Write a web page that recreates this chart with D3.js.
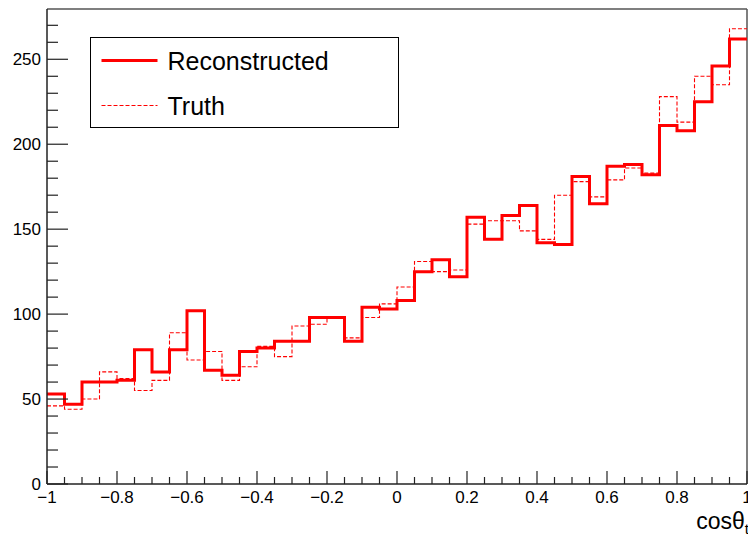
<!DOCTYPE html>
<html>
<head>
<meta charset="utf-8">
<script src="https://cdn.jsdelivr.net/npm/d3@7"></script>
<style>
  html, body { margin: 0; padding: 0; background: #fff; overflow: hidden; }
  svg { display: block; font-family: "Liberation Sans", Arial, sans-serif; }
  .tick-label { font-size: 17px; fill: #000; }
</style>
</head>
<body>
<div id="chart"></div>
<script>
(function () {
  "use strict";

  // bin edges run from -1 to 1 in steps of 0.05 (40 bins)
  const binEdges = [
    -1, -0.95, -0.9, -0.85, -0.8, -0.75, -0.7, -0.65, -0.6, -0.55,
    -0.5, -0.45, -0.4, -0.35, -0.3, -0.25, -0.2, -0.15, -0.1, -0.05,
    0, 0.05, 0.1, 0.15, 0.2, 0.25, 0.3, 0.35, 0.4, 0.45,
    0.5, 0.55, 0.6, 0.65, 0.7, 0.75, 0.8, 0.85, 0.9, 0.95, 1
  ];

  const reconstructed = [
    53, 47, 60, 60, 61, 79, 66, 79, 102, 67,
    64, 78, 80, 84, 84, 98, 98, 84, 104, 103,
    108, 125, 132, 122, 157, 144, 158, 164, 142, 141,
    181, 165, 187, 188, 182, 211, 208, 225, 246, 262
  ];

  const truth = [
    46, 44, 50, 66, 62, 55, 61, 89, 73, 78,
    61, 69, 81, 75, 93, 94, 98, 86, 98, 106,
    116, 131, 125, 126, 153, 155, 155, 149, 144, 170,
    178, 169, 179, 186, 183, 228, 213, 240, 235, 268
  ];

  const xTicks = [-1, -0.8, -0.6, -0.4, -0.2, 0, 0.2, 0.4, 0.6, 0.8, 1];
  const xTickLabels = ["\u22121", "\u22120.8", "\u22120.6", "\u22120.4", "\u22120.2", "0", "0.2", "0.4", "0.6", "0.8", "1"];
  const yTicks = [0, 50, 100, 150, 200, 250];
  const yTickLabels = ["0", "50", "100", "150", "200", "250"];

  const width = 748;
  const height = 539;
  const margin = { top: 9, right: 1, bottom: 55, left: 47 };
  const innerWidth = 700;
  const innerHeight = height - margin.top - margin.bottom;

  const svg = d3.select("#chart")
    .append("svg")
    .attr("width", width)
    .attr("height", height);

  const x = d3.scaleLinear().domain([-1, 1]).range([margin.left, margin.left + innerWidth]);
  const y = d3.scaleLinear().domain([0, 279.6]).range([margin.top + innerHeight, margin.top]);

  // frame top / right
  svg.append("line")
    .attr("x1", margin.left).attr("x2", margin.left + innerWidth)
    .attr("y1", margin.top).attr("y2", margin.top)
    .attr("stroke", "#555").attr("stroke-width", 1.5);
  svg.append("line")
    .attr("x1", margin.left + innerWidth).attr("x2", margin.left + innerWidth)
    .attr("y1", margin.top).attr("y2", margin.top + innerHeight)
    .attr("stroke", "#555").attr("stroke-width", 1.5);

  // histograms
  const step = d3.line()
    .x((d) => x(d[0]))
    .y((d) => y(d[1]))
    .curve(d3.curveStepAfter);

  const toPoints = (values) => {
    const pts = values.map((v, i) => [binEdges[i], v]);
    pts.push([binEdges[binEdges.length - 1], values[values.length - 1]]);
    return pts;
  };

  svg.append("path")
    .attr("d", step(toPoints(truth)))
    .attr("fill", "none")
    .attr("stroke", "#ff0000")
    .attr("stroke-width", 1.1)
    .attr("stroke-dasharray", "4,2");

  svg.append("path")
    .attr("d", step(toPoints(reconstructed)))
    .attr("fill", "none")
    .attr("stroke", "#ff0000")
    .attr("stroke-width", 3)
    .attr("stroke-linejoin", "miter");

  // y axis
  const yAxis = svg.append("g").attr("transform", `translate(${margin.left},0)`);
  yAxis.append("line")
    .attr("x1", 0).attr("x2", 0)
    .attr("y1", margin.top).attr("y2", margin.top + innerHeight)
    .attr("stroke", "#222").attr("stroke-width", 1.5);

  const yMinor = d3.range(0, 280, 10);
  yAxis.selectAll("line.minor")
    .data(yMinor)
    .join("line")
    .attr("class", "minor")
    .attr("x1", 0)
    .attr("x2", (d) => (d % 50 === 0 ? 21 : 11))
    .attr("y1", (d) => y(d))
    .attr("y2", (d) => y(d))
    .attr("stroke", "#222")
    .attr("stroke-width", 1.2);

  yAxis.selectAll("text")
    .data(yTicks)
    .join("text")
    .attr("class", "tick-label")
    .attr("x", -6)
    .attr("y", (d) => y(d))
    .attr("dy", "0.36em")
    .attr("text-anchor", "end")
    .text((d, i) => yTickLabels[i]);

  // x axis
  const xAxis = svg.append("g").attr("transform", `translate(0,${margin.top + innerHeight})`);
  xAxis.append("line")
    .attr("x1", margin.left).attr("x2", margin.left + innerWidth)
    .attr("y1", 0).attr("y2", 0)
    .attr("stroke", "#222").attr("stroke-width", 1.5);

  xAxis.selectAll("line.minor")
    .data(binEdges)
    .join("line")
    .attr("class", "minor")
    .attr("x1", (d) => x(d))
    .attr("x2", (d) => x(d))
    .attr("y1", 0)
    .attr("y2", (d, i) => (i % 4 === 0 ? -13 : -7))
    .attr("stroke", "#222")
    .attr("stroke-width", 1.2);

  xAxis.selectAll("text")
    .data(xTicks)
    .join("text")
    .attr("class", "tick-label")
    .attr("x", (d) => x(d))
    .attr("y", 19)
    .attr("text-anchor", "middle")
    .text((d, i) => xTickLabels[i]);

  // axis title
  const title = svg.append("text")
    .attr("x", 749)
    .attr("y", 529)
    .attr("text-anchor", "end")
    .style("font-size", "23px")
    .attr("fill", "#000");
  title.append("tspan").text("cos\u03b8");
  title.append("tspan").attr("dy", 5).style("font-size", "15px").text("t");

  // legend
  const legend = svg.append("g").attr("transform", "translate(90.5,37.5)");
  legend.append("rect")
    .attr("x", 0).attr("y", 0)
    .attr("width", 308).attr("height", 90)
    .attr("fill", "#fff")
    .attr("stroke", "#000")
    .attr("stroke-width", 1);

  const legendItems = [
    { label: "Reconstructed", width: 3, dash: null, cy: 23 },
    { label: "Truth", width: 1.1, dash: "4,2", cy: 68 }
  ];

  const items = legend.selectAll("g.item")
    .data(legendItems)
    .join("g")
    .attr("class", "item")
    .attr("transform", (d) => `translate(0,${d.cy})`);

  items.append("line")
    .attr("x1", 11).attr("x2", 67)
    .attr("stroke", "#ff0000")
    .attr("stroke-width", (d) => d.width)
    .attr("stroke-dasharray", (d) => d.dash);

  items.append("text")
    .attr("x", 77)
    .attr("dy", "0.36em")
    .style("font-size", "25px")
    .attr("fill", "#000")
    .text((d) => d.label);
})();
</script>
</body>
</html>
